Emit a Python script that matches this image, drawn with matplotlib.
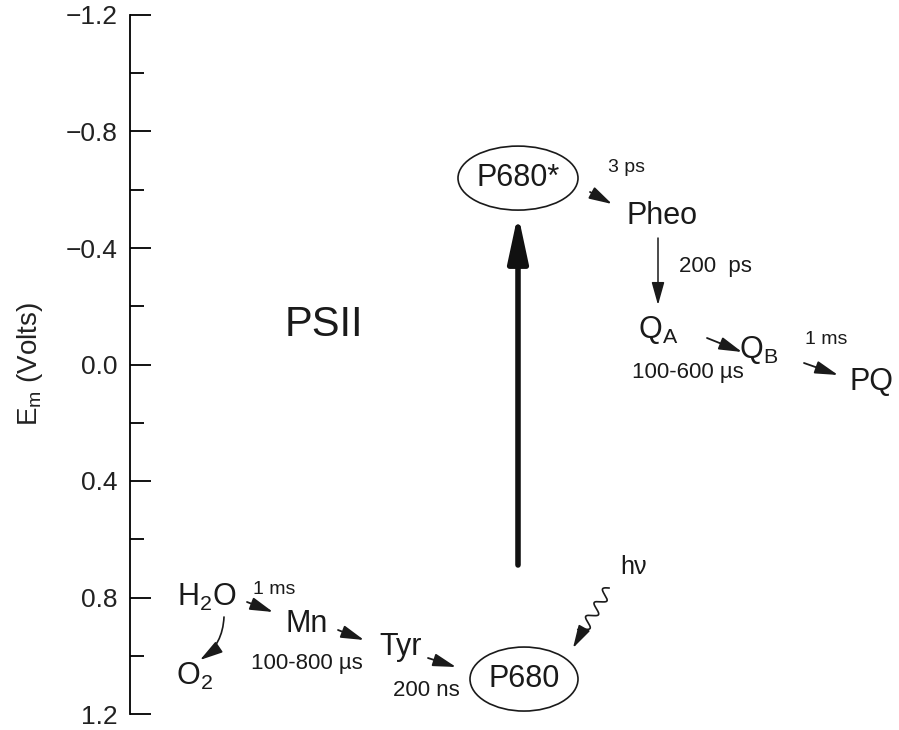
import numpy as np
import matplotlib
matplotlib.use("Agg")
import matplotlib.pyplot as plt
from matplotlib.patches import Ellipse

plt.rcParams['font.family'] = ['Liberation Sans', 'DejaVu Sans']
plt.rcParams['mathtext.fontset'] = 'custom'
plt.rcParams['mathtext.rm'] = 'Liberation Sans'

# electron carriers and midpoint potentials (V)
carriers = ["P680*", "Pheo", r"$\mathregular{Q_A}$", r"$\mathregular{Q_B}$", "PQ",
            r"$\mathregular{H_2O}$", "Mn", "Tyr", "P680", r"$\mathregular{O_2}$"]
em_volts = [-0.64, -0.51, -0.12, -0.05, 0.06, 0.80, 0.89, 0.97, 1.08, 1.07]

# transfer times
rates = ["3 ps", "200  ps", "100-600 µs", "1 ms", "1 ms", "100-800 µs", "200 ns"]

# layout (x in pixels)
carrier_x = [518, 662, 658, 759, 872, 207, 307, 401, 524, 194]
carrier_boxed = ["P680*", "P680"]


def v(ypix):
    # pixel row -> volts on the axis
    return -1.2 + (ypix - 15) * 2.4 / 699


fig = plt.figure(figsize=(8.99, 7.3), dpi=100)
ax = fig.add_axes([130 / 899, 16 / 730, 769 / 899, 699 / 730])
ax.set_xlim(130, 899)
ax.set_ylim(1.2, -1.2)

for s in ["top", "right", "bottom"]:
    ax.spines[s].set_visible(False)
ax.spines["left"].set_linewidth(1.3)
ax.set_xticks([])
ax.set_yticks(np.arange(-1.2, 1.21, 0.4))
ax.set_yticks(np.arange(-1.0, 1.1, 0.4), minor=True)
ax.tick_params(axis="y", which="major", direction="in", length=15, width=1.3,
               labelsize=19, pad=9)
ax.tick_params(axis="y", which="minor", direction="in", length=10, width=1.3)
for lab in ax.get_yticklabels():
    lab.set_color("#222222")

fig.text(30 / 899, 1 - 364 / 730, r"E$_\mathregular{m}$ (Volts)", rotation=90,
         ha="center", va="center", fontsize=20, color="#222222")

# carriers
for name, x, e in zip(carriers, carrier_x, em_volts):
    ax.text(x, e, name, ha="center", va="center", fontsize=22, color="#1a1a1a")
    if name in carrier_boxed:
        w = 120 if name == "P680*" else 108
        ax.add_patch(Ellipse((x, e), w, 64 * 2.4 / 699,
                             fill=False, lw=1.2, ec="#1a1a1a"))

ax.text(324, v(325), "PSII", ha="center", va="center", fontsize=30, color="#1a1a1a")

# rate labels
rate_pos = [(627, 168, 14), (715, 267, 16), (688, 373, 16), (826, 340, 14),
            (274, 590, 14), (307, 664, 16), (426, 690, 16)]
for txt, (x, y, fs) in zip(rates, rate_pos):
    ax.text(x, v(y), txt, ha="center", va="center", fontsize=fs, color="#1a1a1a")

small_head = dict(arrowstyle="-|>,head_length=1.0,head_width=0.28", color="#1a1a1a",
                  shrinkA=0, shrinkB=0, mutation_scale=14)

# small transfer arrows
arrows = [((590, 192), (612, 204)), ((707, 338), (742, 352)), ((804, 363), (838, 375)),
          ((247, 602), (273, 612)), ((338, 630), (364, 640)), ((428, 658), (456, 667))]
for (x0, y0), (x1, y1) in arrows:
    ax.annotate("", xy=(x1, v(y1)), xytext=(x0, v(y0)),
                arrowprops=dict(small_head, lw=1.3))

# Pheo -> QA
ax.annotate("", xy=(658, v(305)), xytext=(658, v(238)),
            arrowprops=dict(small_head, lw=1.1))

# H2O -> O2
ax.annotate("", xy=(200, v(660)), xytext=(224, v(617)),
            arrowprops=dict(small_head, lw=1.2, connectionstyle="arc3,rad=-0.25"))

# excitation arrow
ax.annotate("", xy=(518, v(214)), xytext=(518, v(565)),
            arrowprops=dict(arrowstyle="-|>,head_length=1.4,head_width=0.3",
                            lw=4, color="#111111", shrinkA=0, shrinkB=0,
                            mutation_scale=20))

# h nu wavy arrow
p0 = np.array([609.0, 588.0])
p1 = np.array([582.0, 632.0])
d = p1 - p0
L = np.hypot(*d)
u = d / L
nrm = np.array([-u[1], u[0]])
t = np.linspace(0, L, 200)
wave = p0 + np.outer(t, u) + np.outer(5 * np.sin(2 * np.pi * t / (L / 3.2)), nrm)
ax.plot(wave[:, 0], v(wave[:, 1]), color="#1a1a1a", lw=1.2)
ax.annotate("", xy=(573, v(648)), xytext=(p1[0], v(p1[1])),
            arrowprops=dict(small_head, lw=1.2))
ax.text(634, v(567), "hν", ha="center", va="center", fontsize=18, color="#1a1a1a")

fig.savefig("out.png", dpi=100)
